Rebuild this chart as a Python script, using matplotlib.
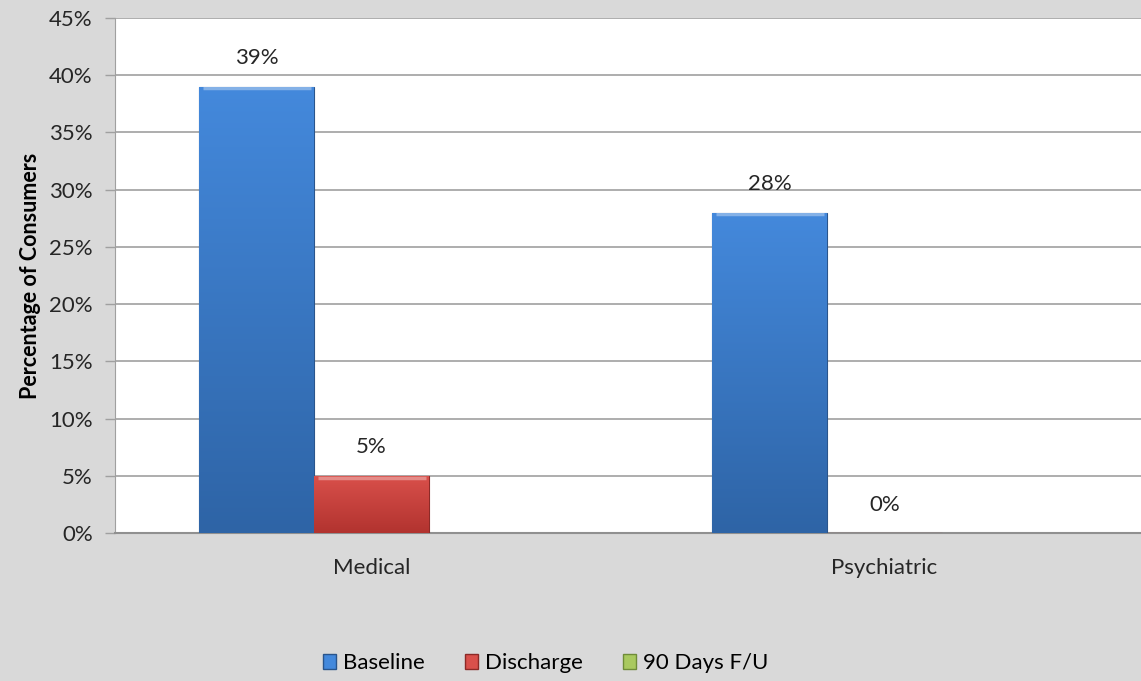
import numpy as np
import matplotlib.pyplot as plt
from matplotlib.colors import LinearSegmentedColormap
from matplotlib.patches import Patch

plt.rcParams['font.family'] = ['Lato', 'DejaVu Sans']

# data
categories = ['Medical', 'Psychiatric']
series = ['Baseline', 'Discharge', '90 Days F/U']
baseline = [39, 28]
discharge = [5, 0]
followup = [np.nan, np.nan]   # no values reported
values = [baseline, discharge, followup]

# light / dark shades for each series
shades = [('#4489dc', '#2e64a6'), ('#d9504b', '#b2332f'), ('#a9c95f', '#86a645')]
edges = ['#2a558c', '#8c2a27', '#6f8c38']
fs = 16
txt = '#262626'

fig = plt.figure(figsize=(11.41, 6.81), dpi=100)
fig.patch.set_facecolor('#d9d9d9')
ax = fig.add_axes([0.1008, 0.2173, 0.8992, 0.7563])
ax.set_facecolor('white')

x = np.arange(len(categories))
w = 0.224
grad = np.linspace(1, 0, 256).reshape(-1, 1)

for i, (name, vals) in enumerate(zip(series, values)):
    pos = x + (i - 1) * w
    bars = ax.bar(pos, vals, w, color=shades[i][1], edgecolor=edges[i],
                  linewidth=0.8, label=name, zorder=3)
    cmap = LinearSegmentedColormap.from_list(name, [shades[i][1], shades[i][0]])
    for b, v in zip(bars, vals):
        if np.isnan(v):
            continue
        if v > 0:
            bx, bw, bh = b.get_x(), b.get_width(), b.get_height()
            im = ax.imshow(grad, cmap=cmap, aspect='auto', zorder=3.5,
                           extent=[bx, bx + bw, 0, bh], origin='upper')
            im.set_clip_path(b)
            # bevel highlight along the top edge
            ax.plot([bx + bw * 0.03, bx + bw * 0.97], [bh - 0.15, bh - 0.15],
                    color='white', alpha=0.35, lw=2.5, zorder=4,
                    solid_capstyle='butt')
        ax.text(b.get_x() + b.get_width() / 2, v + 1.6, '%d%%' % v,
                ha='center', va='bottom', fontsize=fs, color=txt, zorder=5)

ax.set_xlim(-0.5, 1.5)
ax.set_ylim(0, 45)
ax.set_yticks(np.arange(0, 46, 5))
ax.set_yticklabels(['%d%%' % t for t in range(0, 46, 5)], fontsize=fs, color=txt)
ax.set_xticks(x)
ax.set_xticklabels(categories, fontsize=fs, color=txt)
ax.tick_params(axis='x', length=0, pad=18)
ax.tick_params(axis='y', length=7, width=1, color='#a0a0a0', pad=9)
ax.yaxis.grid(True, color='#a0a0a0', lw=1.2, zorder=1)
ax.set_axisbelow(True)
for s in ['top', 'right']:
    ax.spines[s].set_visible(False)
ax.spines['left'].set_color('#a0a0a0')
ax.spines['bottom'].set_color('#909090')
ax.spines['bottom'].set_linewidth(1.5)
ax.set_ylabel('Percentage of Consumers', fontsize=15.5, fontweight='bold',
              color='black', labelpad=6)

handles = [Patch(facecolor=shades[i][0], edgecolor=edges[i], label=series[i])
           for i in range(3)]
fig.legend(handles=handles, loc='center', bbox_to_anchor=(0.478, 0.026), ncol=3,
           frameon=False, fontsize=fs, handlelength=0.6, handleheight=0.6,
           handletextpad=0.3, columnspacing=1.8)

fig.savefig('out.png', dpi=100, facecolor=fig.get_facecolor())
